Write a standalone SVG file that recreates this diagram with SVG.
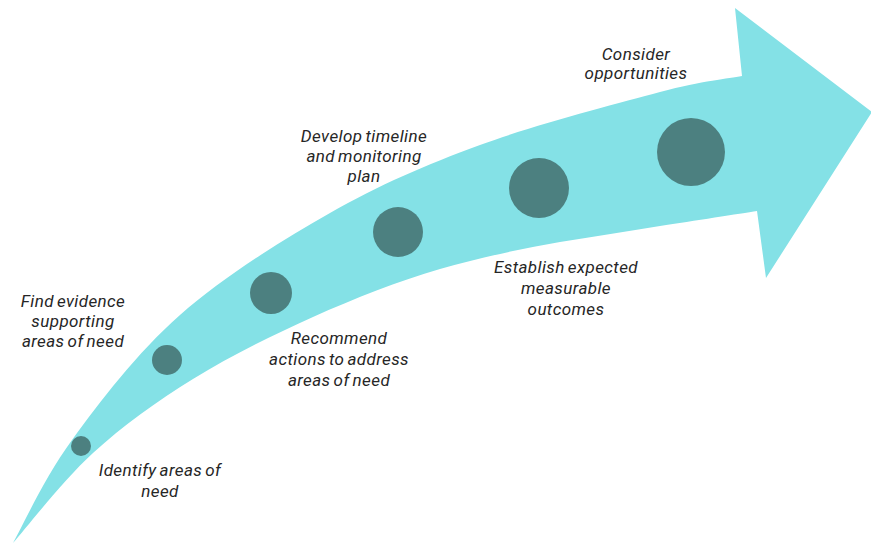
<svg xmlns="http://www.w3.org/2000/svg" width="871" height="545" viewBox="0 0 871 545">
  <style>
    .band { fill: #84E1E6; }
    .dot { fill: #4C8080; }
    .lbl { font-family: Roboto, "Liberation Sans", sans-serif; font-style: italic; font-size: 17px; letter-spacing: 0.4px; fill: #262626; text-anchor: middle; word-spacing: -1.5px; }
  </style>
  <rect width="871" height="545" fill="#FFFFFF"/>
  <g id="arrow">
    <path class="band" d="M13,543 C22.8,525.8 44.2,478 72,440 C99.8,402 137,352.8 180,315 C223,277.2 280,241.3 330,213 C380,184.7 425,165.2 480,145 C535,124.8 616.3,103.5 660,92 C703.7,80.5 728.3,78.7 742,76 L735,8 L872,112 L766,278 L757,211 C740.8,213.5 692.8,221 660,226 C627.2,231 594,237 560,242 C520,249 478,258 440,269 C398.8,281 354.2,298.5 313,317 C271.8,335.5 229.7,356.3 193,379 C156.3,401.7 123,425.7 93,453 C63,480.3 26.3,528 13,543 Z"/>
  </g>
  <g id="connectors"></g>
  <g id="step1">
    <circle class="dot" cx="81" cy="446" r="10"/>
    <text class="lbl"><tspan x="160" y="476">Identify areas of</tspan><tspan x="160" y="497">need</tspan></text>
  </g>
  <g id="step2">
    <circle class="dot" cx="167" cy="360" r="15"/>
    <text class="lbl"><tspan x="73" y="307">Find evidence</tspan><tspan x="73" y="327">supporting</tspan><tspan x="73" y="347">areas of need</tspan></text>
  </g>
  <g id="step3">
    <circle class="dot" cx="271" cy="293" r="21"/>
    <text class="lbl"><tspan x="339" y="344">Recommend</tspan><tspan x="339" y="365">actions to address</tspan><tspan x="339" y="386">areas of need</tspan></text>
  </g>
  <g id="step4">
    <circle class="dot" cx="398" cy="232" r="25"/>
    <text class="lbl"><tspan x="364" y="142">Develop timeline</tspan><tspan x="364" y="162">and monitoring</tspan><tspan x="364" y="182">plan</tspan></text>
  </g>
  <g id="step5">
    <circle class="dot" cx="539" cy="188" r="30"/>
    <text class="lbl"><tspan x="566" y="273">Establish expected</tspan><tspan x="566" y="294">measurable</tspan><tspan x="566" y="315">outcomes</tspan></text>
  </g>
  <g id="step6">
    <circle class="dot" cx="691" cy="152" r="34"/>
    <text class="lbl"><tspan x="636" y="60">Consider</tspan><tspan x="636" y="79">opportunities</tspan></text>
  </g>
</svg>
